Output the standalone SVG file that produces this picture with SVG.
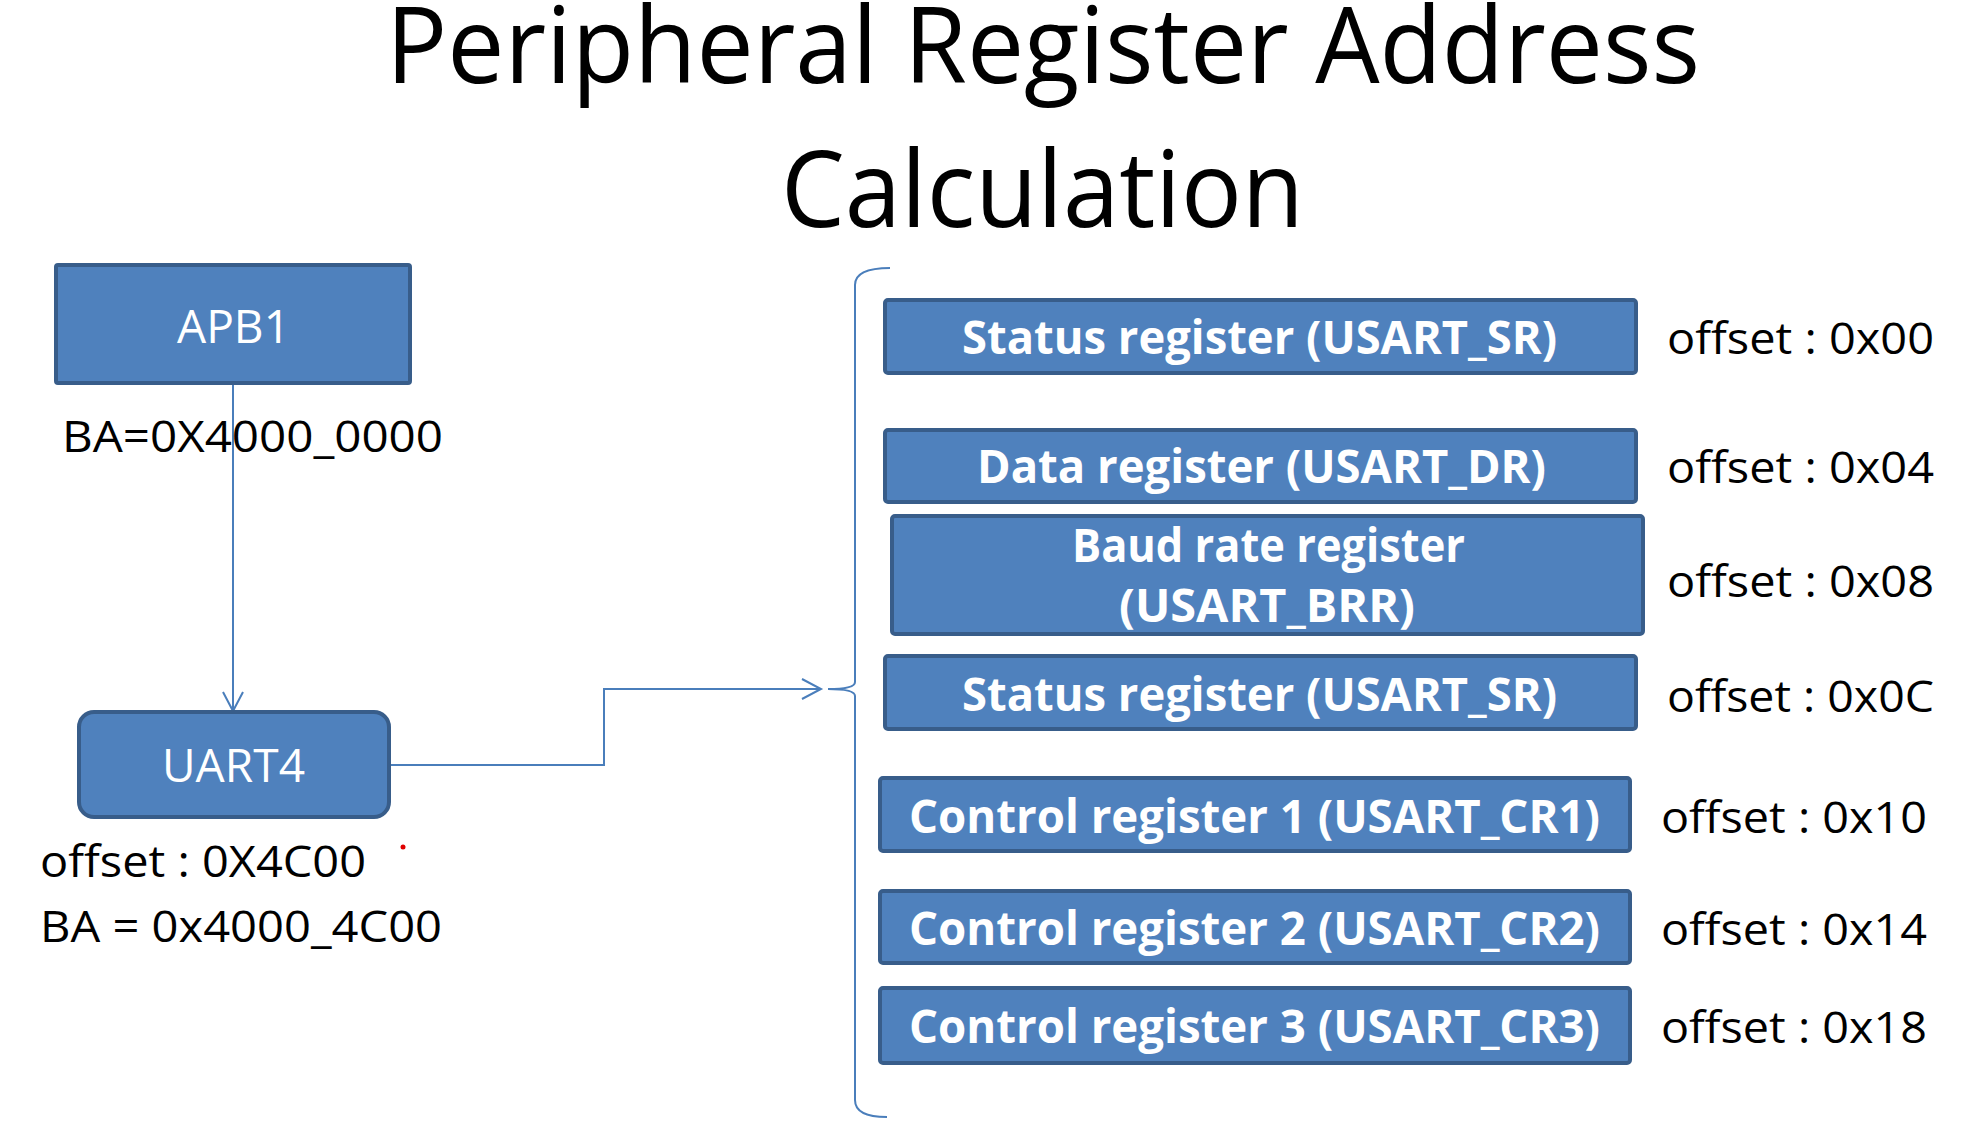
<svg xmlns="http://www.w3.org/2000/svg" width="1982" height="1136" viewBox="0 0 1982 1136">
<style>
.box{fill:#4F81BD;stroke:#385D8A;stroke-width:4}
.lbl{font-family:"Open Sans","Liberation Sans",sans-serif;fill:#FFFFFF;font-size:46px}
.reg{font-family:"Open Sans","Liberation Sans",sans-serif;fill:#FFFFFF;font-size:46px;font-weight:bold}
.txt{font-family:"Open Sans","Liberation Sans",sans-serif;fill:#000000;font-size:44px}
.title{font-family:"Open Sans","Liberation Sans",sans-serif;fill:#000000;font-size:106px}
.conn{fill:none;stroke:#4A7EBB;stroke-width:2}
</style>
<defs>
<marker id="arr" markerUnits="userSpaceOnUse" markerWidth="24" markerHeight="26" refX="21" refY="11" orient="auto">
<path d="M2,1 L21,11 L2,21" fill="none" stroke="#4A7EBB" stroke-width="2"/>
</marker>
</defs>
<rect width="1982" height="1136" fill="#FFFFFF"/>
<g id="title">
<text class="title" x="386" y="83" textLength="1314" lengthAdjust="spacingAndGlyphs">Peripheral Register Address</text>
<text class="title" x="781" y="227" textLength="523" lengthAdjust="spacingAndGlyphs">Calculation</text>
</g>
<g id="connectors">
<line class="conn" x1="233" y1="383" x2="233" y2="711" marker-end="url(#arr)"/>
<path class="conn" d="M389,765 L604,765 L604,689 L821,689" marker-end="url(#arr)"/>
<path class="conn" d="M890,268 Q855,268 855,285 L855,682 Q855,689 828,689 Q855,689 855,696 L855,1100 Q855,1117 887,1117"/>
</g>
<g id="apb1">
<rect class="box" x="56" y="265" width="354" height="118" rx="2"/>
<text class="lbl" x="177" y="343" textLength="113" lengthAdjust="spacingAndGlyphs">APB1</text>
</g>
<g id="apb1-ba">
<text class="txt" x="62" y="452" textLength="381" lengthAdjust="spacingAndGlyphs">BA=0X4000_0000</text>
</g>
<g id="uart4">
<rect class="box" x="79" y="712" width="310" height="105" rx="15"/>
<text class="lbl" x="162" y="782" textLength="143" lengthAdjust="spacingAndGlyphs">UART4</text>
</g>
<g id="uart4-info">
<text class="txt" x="40" y="877" textLength="326" lengthAdjust="spacingAndGlyphs">offset : 0X4C00</text>
<text class="txt" x="40" y="942" textLength="402" lengthAdjust="spacingAndGlyphs">BA = 0x4000_4C00</text>
<circle cx="403" cy="847" r="2.5" fill="#E00000"/>
</g>
<g id="reg-sr">
<rect class="box" x="885" y="300" width="751" height="73" rx="3"/>
<text class="reg" x="962" y="354" textLength="595" lengthAdjust="spacingAndGlyphs">Status register (USART_SR)</text>
<text class="txt" x="1667" y="354" textLength="267" lengthAdjust="spacingAndGlyphs">offset : 0x00</text>
</g>
<g id="reg-dr">
<rect class="box" x="885" y="430" width="751" height="72" rx="3"/>
<text class="reg" x="977" y="483" textLength="569" lengthAdjust="spacingAndGlyphs">Data register (USART_DR)</text>
<text class="txt" x="1667" y="483" textLength="267" lengthAdjust="spacingAndGlyphs">offset : 0x04</text>
</g>
<g id="reg-brr">
<rect class="box" x="892" y="516" width="751" height="118" rx="3"/>
<text class="reg" x="1072" y="562" textLength="393" lengthAdjust="spacingAndGlyphs">Baud rate register</text>
<text class="reg" x="1119" y="622" textLength="296" lengthAdjust="spacingAndGlyphs">(USART_BRR)</text>
<text class="txt" x="1667" y="597" textLength="267" lengthAdjust="spacingAndGlyphs">offset : 0x08</text>
</g>
<g id="reg-sr2">
<rect class="box" x="885" y="656" width="751" height="73" rx="3"/>
<text class="reg" x="962" y="711" textLength="595" lengthAdjust="spacingAndGlyphs">Status register (USART_SR)</text>
<text class="txt" x="1667" y="712" textLength="267" lengthAdjust="spacingAndGlyphs">offset : 0x0C</text>
</g>
<g id="reg-cr1">
<rect class="box" x="880" y="778" width="750" height="73" rx="3"/>
<text class="reg" x="909" y="833" textLength="691" lengthAdjust="spacingAndGlyphs">Control register 1 (USART_CR1)</text>
<text class="txt" x="1661" y="833" textLength="266" lengthAdjust="spacingAndGlyphs">offset : 0x10</text>
</g>
<g id="reg-cr2">
<rect class="box" x="880" y="891" width="750" height="72" rx="3"/>
<text class="reg" x="909" y="945" textLength="691" lengthAdjust="spacingAndGlyphs">Control register 2 (USART_CR2)</text>
<text class="txt" x="1661" y="945" textLength="266" lengthAdjust="spacingAndGlyphs">offset : 0x14</text>
</g>
<g id="reg-cr3">
<rect class="box" x="880" y="988" width="750" height="75" rx="3"/>
<text class="reg" x="909" y="1043" textLength="691" lengthAdjust="spacingAndGlyphs">Control register 3 (USART_CR3)</text>
<text class="txt" x="1661" y="1043" textLength="266" lengthAdjust="spacingAndGlyphs">offset : 0x18</text>
</g>
</svg>
